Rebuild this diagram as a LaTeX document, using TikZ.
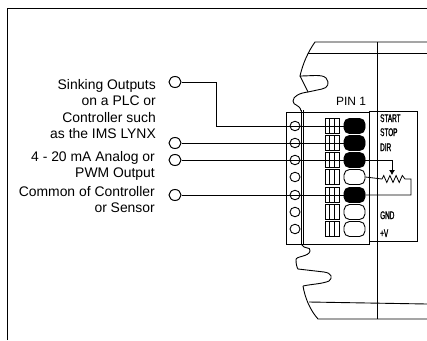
\documentclass[tikz,border=0pt]{standalone}
\usepackage{fontspec}
\setmainfont{Liberation Sans}
\newfontfamily\narrowfont[FakeStretch=0.58,FakeBold=1.4]{Liberation Sans}
\usetikzlibrary{arrows.meta,shapes.geometric}

\tikzset{
  wire/.style={line width=0.9pt, black},
  outline/.style={line width=0.9pt, black},
  label/.style={align=right, anchor=north east, inner sep=0pt, font=\fontsize{13.9}{16.4}\selectfont},
  screw/.style={ellipse, draw, line width=0.9pt, minimum width=10pt, minimum height=9.5pt, inner sep=0pt},
  input/.style={ellipse, draw, line width=1pt, minimum width=12pt, minimum height=11pt, inner sep=0pt, fill=white},
  gridbox/.style={draw, line width=0.9pt, minimum width=14pt, minimum height=14.5pt, inner sep=0pt,
    path picture={
      \draw[line width=0.8pt] ([xshift=-2.4pt]path picture bounding box.north) -- ([xshift=-2.4pt]path picture bounding box.south);
      \draw[line width=0.8pt] ([xshift=2.4pt]path picture bounding box.north) -- ([xshift=2.4pt]path picture bounding box.south);
    }},
  pad/.style={draw, line width=0.9pt, rounded corners=5.5pt, minimum width=21pt, minimum height=15pt, inner sep=0pt},
  sig/.style={anchor=base west, inner sep=0pt, font=\narrowfont\fontsize{11}{12}\selectfont},
}

\begin{document}
\begin{tikzpicture}[x=1pt,y=-1pt]
\useasboundingbox (0,0) rectangle (427,340);

% frame
\coordinate (f0) at (7,340);
\coordinate (f1) at (7,8.5);
\coordinate (f2) at (427,8.5);
\draw[line width=1pt] (f0) -- (f1) -- (f2);

% housing
\draw[outline] (427,42) -- (315,42) .. controls (308,52) and (303,63) .. (300,76)
  .. controls (312,76) and (322,74) .. (326,78) .. controls (330,83) and (328,88) .. (322,89)
  -- (308,92) -- (300,76);
\draw[outline] (308,92) .. controls (300,93) and (293,96) .. (293,101)
  .. controls (293,106) and (300,104) .. (301,111);
\draw[outline] (308,53) -- (427,53);
\draw[outline] (377,42) -- (377,319);
\draw[outline] (301,244) .. controls (304,250) and (311,246) .. (310,251)
  .. controls (309,257) and (295,256) .. (296,260) .. controls (296,264) and (297,268) .. (298,269)
  -- (324,272) .. controls (332,273) and (333,278) .. (329,281)
  .. controls (322,284) and (312,284) .. (303,286);
\draw[outline] (303,286) .. controls (305,298) and (310,310) .. (318,319) -- (427,319);
\draw[outline] (309,302) -- (427,304);

% terminal block and signal strip
\draw[outline] (369,111) rectangle (417,241);
\draw[outline, fill=white] (286,112) rectangle (369,244);
\draw[line width=0.8pt] (301,110) -- (301,244);
\draw[line width=0.8pt] (303,110) -- (303,244);

\node[anchor=base, inner sep=0pt, font=\fontsize{12}{14}\selectfont] (pin) at (351,105) {PIN 1};

\node[screw] (s1) at (295,126) {};
\node[screw] (s2) at (295,143) {};
\node[screw] (s3) at (295,160) {};
\node[screw] (s4) at (295,177) {};
\node[screw] (s5) at (295,195) {};
\node[screw] (s6) at (295,212) {};
\node[screw] (s7) at (295,229) {};

\node[gridbox] (g1) at (332,126) {};
\node[gridbox] (g2) at (332,143) {};
\node[gridbox] (g3) at (332,160) {};
\node[gridbox] (g4) at (332,177) {};
\node[gridbox] (g5) at (332,195) {};
\node[gridbox] (g6) at (332,212) {};
\node[gridbox] (g7) at (332,229) {};

\node[pad, fill=black] (p1) at (354.5,126) {};
\node[pad, fill=black] (p2) at (354.5,143) {};
\node[pad, fill=black] (p3) at (354.5,160) {};
\node[pad] (p4) at (354.5,177) {};
\node[pad, fill=black] (p5) at (354.5,195) {};
\node[pad] (p6) at (354.5,212) {};
\node[pad] (p7) at (354.5,229) {};

\node[sig] (start) at (380,122) {START};
\node[sig] (stop) at (380,136) {STOP};
\node[sig] (dir) at (380,151) {DIR};
\node[sig] (gnd) at (380,219) {GND};
\node[sig] (plusv) at (380,237) {+V};

% inputs
\node[input] (i1) at (175,82) {};
\node[input] (i2) at (175,143) {};
\node[input] (i3) at (175,160) {};
\node[input] (i4) at (175,195) {};

\node[label] (t1) at (156,79) {Sinking Outputs\\on a PLC or\\Controller such\\as the IMS LYNX};
\node[label] (t2) at (155,151) {4 - 20 mA Analog or\\PWM Output};
\node[label] (t3) at (155,186) {Common of Controller\\or Sensor};

\coordinate (c1) at (216.5,82);
\coordinate (c2) at (216.5,126);
\draw[wire] (i1) -- (c1) -- (c2) -- (p1.west);
\draw[wire] (i2) -- (p2.west);
\draw[wire] (i3) -- (p3.west);
\draw[wire] (i4) -- (p5.west);

% potentiometer
\coordinate (w1) at (392,160);
\coordinate (w2) at (392,175);
\coordinate (r0) at (382,179);
\coordinate (r1) at (405,179);
\coordinate (r2) at (411,179);
\coordinate (r3) at (411,195);
\draw[wire, line width=0.8pt] (p3.east) -- (w1);
\draw[wire, line width=0.8pt, -{Latex[length=5pt,width=6pt]}] (w1) -- (w2);
\draw[wire, line width=0.8pt] (p4.east) -- (r0) -- ++(1.7,-3.5) -- ++(3.1,7) -- ++(3.1,-7) -- ++(3.1,7) -- ++(3.1,-7) -- ++(3.1,7) -- ++(3.1,-7) -- (r1) -- (r2) -- (r3) -- (p5.east);
\end{tikzpicture}
\end{document}
